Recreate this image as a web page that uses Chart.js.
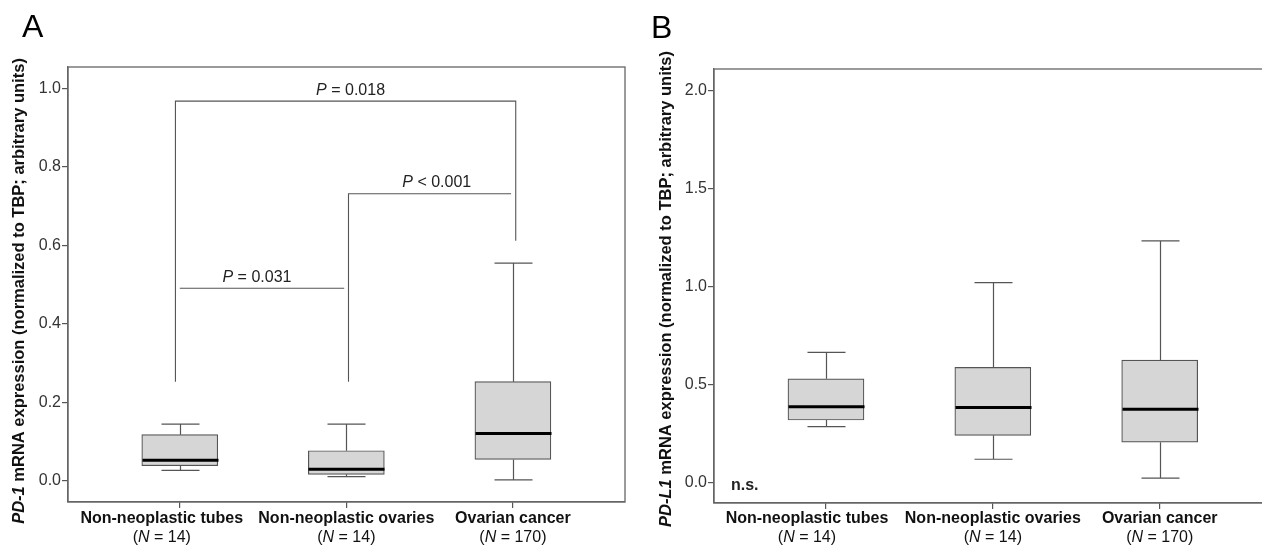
<!DOCTYPE html>
<html><head><meta charset="utf-8">
<script src="https://cdn.jsdelivr.net/npm/chart.js@4.4.1/dist/chart.umd.min.js"></script>
<style>
html,body{margin:0;padding:0;background:#fff;overflow:hidden;width:1262px;height:547px;position:relative}
#ca{position:absolute;left:0;top:0}
#cb{position:absolute;left:630px;top:0}
</style></head><body>
<canvas id="ca" width="630" height="547"></canvas>
<canvas id="cb" width="700" height="547"></canvas>
<script>
// ---------- data ----------
const categories = ["Non-neoplastic tubes", "Non-neoplastic ovaries", "Ovarian cancer"];
const sampleSizes = ["14", "14", "170"];

// Panel A: PD-1
const pd1Min    = [0.027, 0.011, 0.003];
const pd1Q1     = [0.039, 0.017, 0.055];
const pd1Median = [0.053, 0.030, 0.121];
const pd1Q3     = [0.118, 0.077, 0.253];
const pd1Max    = [0.145, 0.145, 0.555];
const pd1Ticks  = [0.0, 0.2, 0.4, 0.6, 0.8, 1.0];

// Panel B: PD-L1
const pdl1Min    = [0.287, 0.121, 0.025];
const pdl1Q1     = [0.321, 0.243, 0.208];
const pdl1Median = [0.388, 0.385, 0.376];
const pdl1Q3     = [0.531, 0.589, 0.626];
const pdl1Max    = [0.666, 1.021, 1.234];
const pdl1Ticks  = [0.0, 0.5, 1.0, 1.5, 2.0];

// Significance brackets (panel A), in data units (x: group index, y: expression)
const pLabels   = ["P = 0.018", "P < 0.001", "P = 0.031"];
const bracketX  = [[0.974, 0.974, 3.017, 3.017], [2.013, 2.013, 2.989], [1.0, 1.987]];
const bracketY  = [[0.253, 0.968, 0.968, 0.612], [0.253, 0.732, 0.732], [0.491, 0.491]];
const bracketLevel = [0.968, 0.732, 0.491];
const bracketFrom  = [0.974, 2.013, 1.0];
const bracketTo    = [3.017, 2.989, 1.987];
const nsLabel = "n.s.";

// ---------- drawing ----------
const FF = "'Liberation Sans', Arial, Helvetica, sans-serif";
Chart.defaults.font.family = FF;
Chart.defaults.color = '#222';

function richWidth(ctx, parts) {
  let w = 0;
  parts.forEach(p => { ctx.font = p.font; w += ctx.measureText(p.t).width; });
  return w;
}
function drawRich(ctx, parts, x, y, align) {
  const w = richWidth(ctx, parts);
  let cx = align === 'center' ? x - w / 2 : (align === 'right' ? x - w : x);
  ctx.textAlign = 'left';
  ctx.textBaseline = 'middle';
  parts.forEach(p => { ctx.font = p.font; ctx.fillText(p.t, cx, y); cx += ctx.measureText(p.t).width; });
}

function decoPlugin(o) {
  return {
    id: 'deco',
    afterDatasetsDraw(chart) {
      const ctx = chart.ctx, ca = chart.chartArea, xs = chart.scales.x, ys = chart.scales.y;
      ctx.save();
      // whiskers + caps + medians
      o.stats.min.forEach((mn, i) => {
        const px = Math.round(xs.getPixelForValue(i + 1)) + 0.5;
        const yMin = ys.getPixelForValue(mn), yMax = ys.getPixelForValue(o.stats.max[i]);
        const yq1 = ys.getPixelForValue(o.stats.q1[i]), yq3 = ys.getPixelForValue(o.stats.q3[i]);
        ctx.strokeStyle = '#555'; ctx.lineWidth = 1.2;
        ctx.beginPath();
        ctx.moveTo(px, yq3); ctx.lineTo(px, yMax);
        ctx.moveTo(px, yq1); ctx.lineTo(px, yMin);
        ctx.moveTo(px - o.cap / 2, yMax); ctx.lineTo(px + o.cap / 2, yMax);
        ctx.moveTo(px - o.cap / 2, yMin); ctx.lineTo(px + o.cap / 2, yMin);
        ctx.stroke();
        const ym = ys.getPixelForValue(o.stats.med[i]);
        ctx.strokeStyle = '#000'; ctx.lineWidth = 3;
        ctx.beginPath();
        ctx.moveTo(px - o.box / 2, ym); ctx.lineTo(px + o.box / 2, ym);
        ctx.stroke();
      });
      // plot frame
      ctx.strokeStyle = '#666'; ctx.lineWidth = 1.3;
      ctx.strokeRect(ca.left, ca.top, ca.right - ca.left, ca.bottom - ca.top);
      ctx.fillStyle = '#222';
      // p-value labels
      if (o.pvals) {
        o.pvals.forEach((lab, i) => {
          const mid = (xs.getPixelForValue(bracketFrom[i]) + xs.getPixelForValue(bracketTo[i])) / 2 + o.pNudge[i];
          const yy = ys.getPixelForValue(bracketLevel[i]) - 11;
          drawRich(ctx, [{t: 'P', font: 'italic 16px ' + FF}, {t: lab.slice(1), font: '16px ' + FF}], mid, yy, 'center');
        });
      }
      if (o.ns) {
        ctx.font = 'bold 16px ' + FF; ctx.textAlign = 'left'; ctx.textBaseline = 'middle';
        ctx.fillText(o.ns, ca.left + 17, ys.getPixelForValue(0) + 3);
      }
      // category labels
      ctx.fillStyle = '#111';
      categories.forEach((c, i) => {
        const px = xs.getPixelForValue(i + 1) + o.catNudge[i];
        ctx.font = 'bold 16px ' + FF; ctx.textAlign = 'center'; ctx.textBaseline = 'middle';
        ctx.fillText(c, px, 519);
        drawRich(ctx, [{t: '(', font: '16px ' + FF}, {t: 'N', font: 'italic 16px ' + FF}, {t: ' = ' + sampleSizes[i] + ')', font: '16px ' + FF}], px, 538, 'center');
      });
      // axis title
      ctx.fillStyle = '#111';
      ctx.translate(o.titleX, o.titleY);
      ctx.rotate(-Math.PI / 2);
      drawRich(ctx, [{t: o.gene, font: 'italic bold 16.5px ' + FF}, {t: ' mRNA expression (normalized to TBP; arbitrary units)', font: 'bold 16.5px ' + FF}], 0, 0, 'center');
      ctx.setTransform(1, 0, 0, 1, 0, 0);
      // panel letter
      ctx.fillStyle = '#000';
      ctx.font = '32px ' + FF; ctx.textAlign = 'left'; ctx.textBaseline = 'alphabetic';
      ctx.fillText(o.letter, o.letterX, o.letterY);
      ctx.restore();
    }
  };
}

function makeChart(id, cfg) {
  const datasets = [{
    type: 'bar',
    data: cfg.stats.q1.map((q, i) => ({x: i + 1, y: [q, cfg.stats.q3[i]]})),
    backgroundColor: '#d6d6d6',
    borderColor: '#555',
    borderWidth: 1.2,
    borderSkipped: false,
    barThickness: cfg.box,
    order: 2
  }];
  (cfg.brackets || []).forEach((bx, k) => {
    datasets.push({
      type: 'line',
      data: bx.map((xv, j) => ({x: xv, y: bracketY[k][j]})),
      borderColor: '#555', borderWidth: 1.1, pointRadius: 0, fill: false, tension: 0, order: 1
    });
  });
  return new Chart(document.getElementById(id), {
    type: 'bar',
    data: {datasets},
    options: {
      responsive: false, animation: false,
      layout: {padding: cfg.padding},
      plugins: {legend: {display: false}, tooltip: {enabled: false}},
      scales: {
        x: {
          type: 'linear', min: cfg.xMin, max: cfg.xMax, offset: false,
          afterBuildTicks: s => { s.ticks = categories.map((c, i) => ({value: i + 1})); },
          ticks: {callback: () => '', font: {size: 1}},
          grid: {drawOnChartArea: false, offset: false, tickLength: 6, color: '#555', lineWidth: 1.2},
          border: {display: true, color: '#666', width: 1.3},
          afterFit: s => { s.height = cfg.xAxisH; }
        },
        y: {
          type: 'linear', min: cfg.yMin, max: cfg.yMax,
          afterBuildTicks: s => { s.ticks = cfg.ticks.map(v => ({value: v})); },
          ticks: {callback: v => Number(v).toFixed(1), font: {size: 16}, color: '#333', padding: 1},
          grid: {drawOnChartArea: false, tickLength: 6, color: '#555', lineWidth: 1.2},
          border: {display: true, color: '#666', width: 1.3},
          afterFit: s => { s.width = cfg.yAxisW; }
        }
      }
    },
    plugins: [decoPlugin(cfg)]
  });
}

makeChart('ca', {
  stats: {min: pd1Min, q1: pd1Q1, med: pd1Median, q3: pd1Q3, max: pd1Max},
  ticks: pd1Ticks, yMin: -0.0536, yMax: 1.055, xMin: 0.329, xMax: 3.673,
  padding: {left: 0, top: 67, right: 5, bottom: 0}, yAxisW: 68, xAxisH: 45,
  box: 76, cap: 38, brackets: bracketX, pvals: pLabels, pNudge: [5, 7, -5],
  catNudge: [-18, 0, 0], gene: 'PD-1', titleX: 19, titleY: 291, letter: 'A', letterX: 22, letterY: 37
});
makeChart('cb', {
  stats: {min: pdl1Min, q1: pdl1Q1, med: pdl1Median, q3: pdl1Q3, max: pdl1Max},
  ticks: pdl1Ticks, yMin: -0.102, yMax: 2.11, xMin: 0.329, xMax: 3.673,
  padding: {left: 0, top: 69, right: 58, bottom: 0}, yAxisW: 84, xAxisH: 44,
  box: 76, cap: 38, ns: nsLabel,
  catNudge: [-19, 0, 0], gene: 'PD-L1', titleX: 36, titleY: 289, letter: 'B', letterX: 21, letterY: 38
});
</script>
</body></html>
